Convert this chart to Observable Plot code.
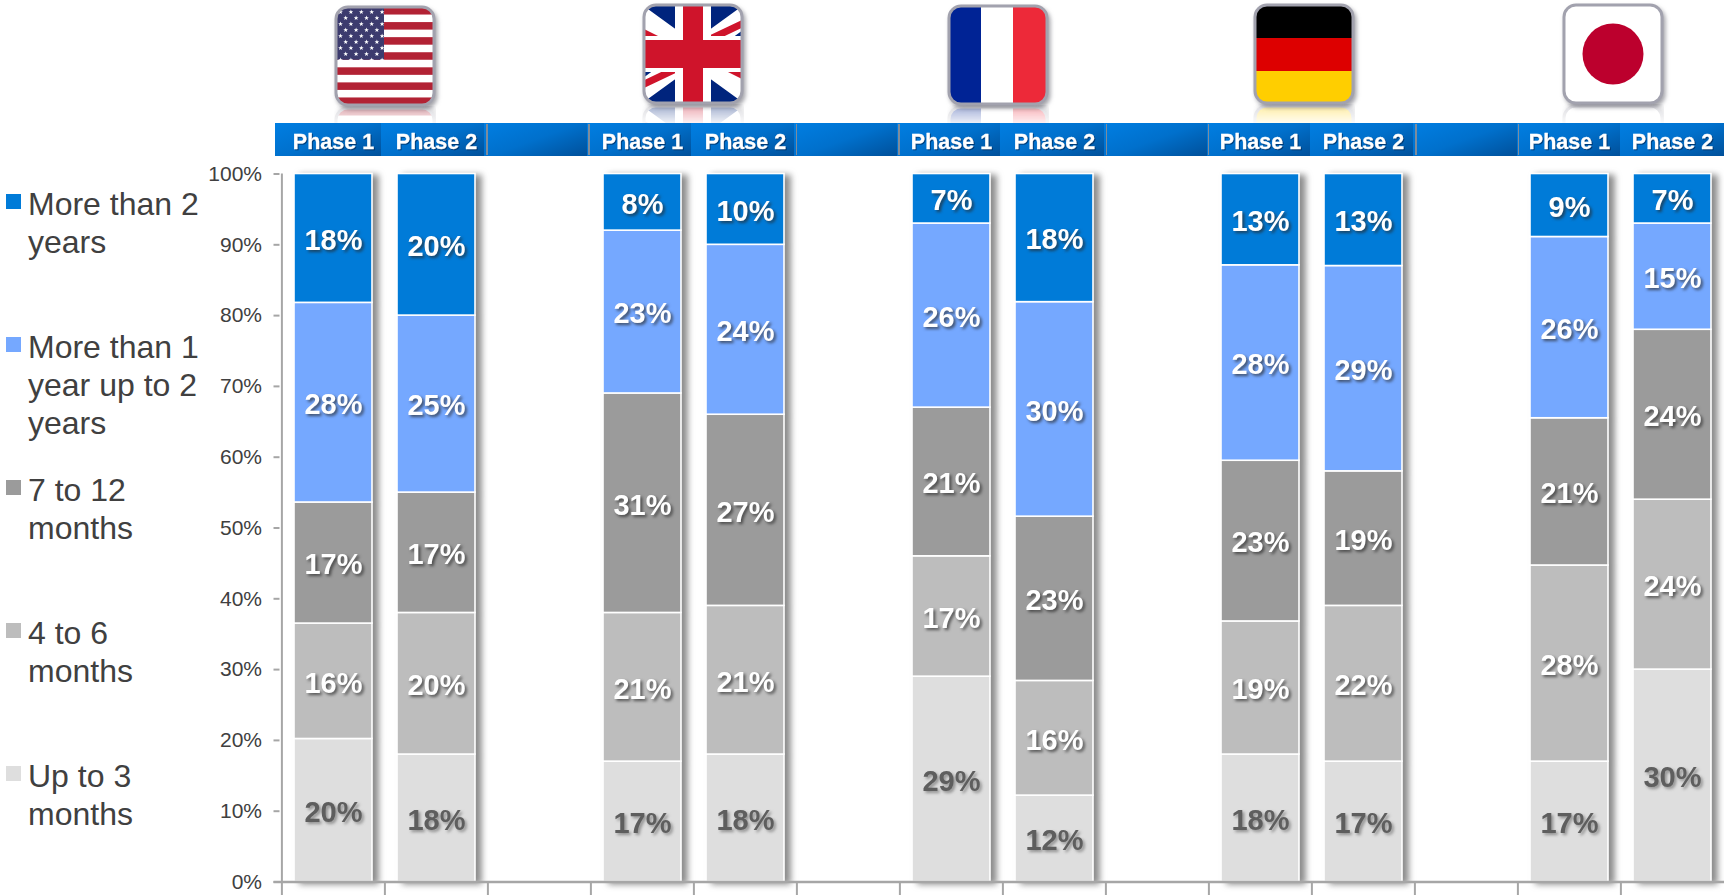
<!DOCTYPE html>
<html><head><meta charset="utf-8">
<script src="https://cdn.jsdelivr.net/npm/d3@7"></script>
<script src="https://cdn.jsdelivr.net/npm/@observablehq/plot@0.6"></script>
<style>
html,body{margin:0;padding:0;background:#fff;width:1724px;height:895px;overflow:hidden;font-family:"Liberation Sans",Arial,sans-serif}
#stage{position:relative;width:1724px;height:895px}
#stage>svg{position:absolute;left:0;top:0;background:transparent}
.seg{position:absolute;top:123px;height:33px;background:linear-gradient(160deg,#007ee2 0%,#0070cc 50%,#00509a 100%)}
.sep{position:absolute;top:124px;height:31px;width:1.5px;background:#7e8c9c}
.flag{position:absolute;width:102px;height:102px;-webkit-box-reflect:below -1px linear-gradient(transparent 78%,rgba(255,255,255,.38));filter:drop-shadow(2px 3px 2px rgba(90,90,100,.55))}
.leg{position:absolute;left:28px;font-size:32px;line-height:38px;color:#404040;white-space:nowrap}
.sw{position:absolute;left:6px;width:14.5px;height:14.5px}
</style></head><body>
<div id="stage"></div>
<script>
// Categories
const countries = ["United States","United Kingdom","France","Germany","Japan"];
const phases = ["Phase 1","Phase 2"];
const seriesNames = ["Up to 3 months","4 to 6 months","7 to 12 months","More than 1 year up to 2 years","More than 2 years"];
const seriesColors = ["#dedede","#bdbdbd","#9b9b9b","#75a8ff","#007bd8"];
// Series values, US P1, US P2, UK P1, UK P2, FR P1, FR P2, DE P1, DE P2, JP P1, JP P2
const upTo3   = [20.2,18,17,18,29,12.2,18,17,17,30];
const m4to6   = [16.3,20,21,21,17,16.2,18.8,22,27.7,24];
const m7to12  = [17.1,17,31,27,21,23.2,22.7,19,20.8,24];
const y1to2   = [28.2,25,23,24,26,30.3,27.6,29,25.6,15];
const y2plus  = [18.2,20,8,10,7,18.1,12.9,13,8.9,7];
const yTicks  = [0,10,20,30,40,50,60,70,80,90,100];
const legendLines = [
  ["More than 2","years"],
  ["More than 1","year up to 2","years"],
  ["7 to 12","months"],
  ["4 to 6","months"],
  ["Up to 3","months"]
];

// Build the table and 14 slots (a blank one between countries)
const seriesValues = [upTo3,m4to6,m7to12,y1to2,y2plus];
const slots = [];
countries.forEach((c,i)=>{
  phases.forEach(p=>slots.push(c+"|"+p));
  if(i<countries.length-1) slots.push(c+"|gap");
});
const barSlots = slots.filter(s=>!s.endsWith("gap"));
const rows = [];
seriesNames.forEach((name,k)=>{
  barSlots.forEach((s,i)=>rows.push({slot:s,series:name,value:seriesValues[k][i]}));
});
const phaseOf = s=>s.split("|")[1];
const pct = d=>Math.round(d.value)+"%";
const stack = o=>Plot.stackY({x:"slot",y:"value",z:"series",order:seriesNames,...o});

const W=1724,H=895,left=279.5,right=1725,top0=173.5,bottom=13.5;
const axisColor="#a6a6a6";

const chart = Plot.plot({
  width:W,height:H,
  marginLeft:left,marginRight:0,marginTop:top0,marginBottom:bottom,
  style:{background:"transparent",fontFamily:"'Liberation Sans',Arial,sans-serif",overflow:"visible"},
  x:{type:"band",domain:slots,range:[left,right],paddingInner:0.24,paddingOuter:0.12,axis:null},
  y:{domain:[0,100],axis:null,label:null},
  color:{domain:seriesNames,range:seriesColors},
  marks:[
    Plot.barY(rows,stack({fill:"series",stroke:"#fff",strokeWidth:1.6,imageFilter:"drop-shadow(6px 2px 3px rgba(70,70,70,.62))"})),
    // axes
    Plot.ruleY([0],{stroke:axisColor,strokeWidth:2.5,insetLeft:-6}),
    Plot.ruleX([slots[0]],{x:d=>d,dx:-51.6,y1:0,y2:100,stroke:axisColor,strokeWidth:2}),
    Plot.ruleX(slots,{x:d=>d,dx:-51.6,y1:0,y2:-2,stroke:axisColor,strokeWidth:2}),
    Plot.axisY({ticks:yTicks,label:null,tickSize:6,tickPadding:12,stroke:axisColor,strokeWidth:2,textStroke:"none",fill:"#404040",fontSize:21,tickFormat:d=>d+"%",marginLeft:left}),
    // data labels (stacked over all rows, then split by text colour)
    Plot.text(rows,Plot.filter(d=>d.series!==seriesNames[0],stack({text:pct,fill:"#fff",fontSize:29,fontWeight:"bold",dy:2,imageFilter:"drop-shadow(2px 2px 1.5px rgba(40,40,40,.7))"}))),
    Plot.text(rows,Plot.filter(d=>d.series===seriesNames[0],stack({text:pct,fill:"#5e5e5e",fontSize:29,fontWeight:"bold",dy:2,imageFilter:"drop-shadow(2px 2px 1.5px rgba(90,90,90,.6))"}))),
    // phase header labels
    Plot.text(barSlots,{x:d=>d,text:phaseOf,frameAnchor:"top",dy:-40,fill:"#fff",stroke:"#fff",strokeWidth:0.3,fontSize:21.5,fontWeight:"bold",imageFilter:"drop-shadow(1px 1px .6px rgba(0,30,70,.6))"})
  ]
});

const stage=document.getElementById("stage");
const step=(right-left)/slots.length;
const add=(cls,l,w,extra)=>{const d=document.createElement("div");d.className=cls;d.style.left=l+"px";if(w!=null)d.style.width=w+"px";if(extra)Object.assign(d.style,extra);stage.appendChild(d);return d;};

// Flags
function roundClip(id){return `<clipPath id="${id}"><rect x="2" y="2" width="98" height="98" rx="12"/></clipPath>`;}
function star(cx,cy,r){let p=[];for(let i=0;i<10;i++){const a=-Math.PI/2+i*Math.PI/5,q=i%2?r*0.42:r;p.push((cx+q*Math.cos(a)).toFixed(2)+","+(cy+q*Math.sin(a)).toFixed(2));}return `<polygon points="${p.join(" ")}" fill="#fff"/>`;}
function usFlag(){
  let s=`<rect x="0" y="0" width="102" height="102" fill="#fff"/>`;
  const h=98/13;
  for(let i=0;i<13;i+=2) s+=`<rect x="0" y="${2+i*h}" width="102" height="${h}" fill="#b22234"/>`;
  s+=`<rect x="0" y="0" width="50" height="${2+7*h}" fill="#3c3b6e"/>`;
  for(let r=0;r<9;r++){const n=r%2?4:5;for(let c=0;c<n;c++){s+=star(6.5+(r%2?5.2:0)+c*10.4,7+r*6,2.5);}}
  return s;
}
function ukFlag(){
  return `<rect width="102" height="102" fill="#00247d"/>
  <path d="M0 14L102 88M102 14L0 88" stroke="#fff" stroke-width="20"/>
  <path d="M0 29L18 38M102 73L84 64" stroke="#cf142b" stroke-width="7"/>
  <path d="M102 20L62 39M0 82L40 63" stroke="#cf142b" stroke-width="7"/>
  <rect x="33" width="36" height="102" fill="#fff"/><rect y="33" width="102" height="36" fill="#fff"/>
  <rect x="41" width="20" height="102" fill="#cf142b"/><rect y="37" width="102" height="28" fill="#cf142b"/>`;
}
function frFlag(){return `<rect width="102" height="102" fill="#fff"/><rect width="34" height="102" fill="#002395"/><rect x="66" width="36" height="102" fill="#ed2939"/>`;}
function deFlag(){return `<rect width="102" height="35" fill="#000"/><rect y="35" width="102" height="33" fill="#dd0000"/><rect y="68" width="102" height="34" fill="#ffce00"/>`;}
function jpFlag(){return `<rect width="102" height="102" fill="#fff"/><circle cx="51" cy="51" r="30.5" fill="#bc002d"/>`;}
const flagDraw=[usFlag,ukFlag,frFlag,deFlag,jpFlag];
const flagLeft=[334,642,947,1252.5,1562];
const flagTop=[4.5,2.5,3.5,3,3];
flagDraw.forEach((fn,i)=>{
  const d=add("flag",flagLeft[i],null,{top:flagTop[i]+"px"});
  d.innerHTML=`<svg width="102" height="102" viewBox="0 0 102 102" style="position:static"><defs>${roundClip("fc"+i)}</defs><g clip-path="url(#fc${i})">${fn()}</g><rect x="2" y="2" width="98" height="98" rx="12" fill="none" stroke="#a2a2ae" stroke-width="3"/></svg>`;
});

// Header segments go over the flag reflections
slots.forEach((s,i)=>{
  const l=i===0?275:left+i*step-2;
  const r=i===slots.length-1?W:left+(i+1)*step-2;
  add("seg",l,r-l);
});
slots.forEach((s,i)=>{
  if(i<slots.length-1 && !s.endsWith("Phase 1")) add("sep",left+(i+1)*step+(s.endsWith("gap")?-1:0),null);
});
stage.appendChild(chart);

// Legend
const legTop=[185,328,471,614,757];
legendLines.forEach((lines,i)=>{
  const d=add("leg",28,null,{top:legTop[i]+"px"});
  d.innerHTML=lines.join("<br>");
  add("sw",6,null,{top:(legTop[i]+9)+"px",background:seriesColors[seriesColors.length-1-i]});
});
</script>
</body></html>
